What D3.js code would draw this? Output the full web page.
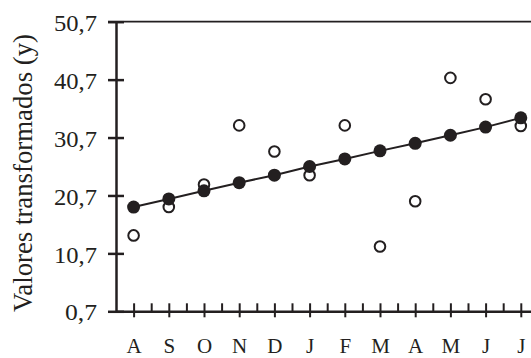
<!DOCTYPE html>
<html>
<head>
<meta charset="utf-8">
<script src="https://cdn.jsdelivr.net/npm/d3@7"></script>
<style>
  body { margin: 0; background: #fff; }
  svg text { font-family: "Liberation Serif", "Times New Roman", serif; fill: #231f20; }
</style>
</head>
<body>
<div id="chart"></div>
<script>
// month initials, Aug -> Jul
const months = ["A", "S", "O", "N", "D", "J", "F", "M", "A", "M", "J", "J"]
// observed transformed values (open circles)
const observed = [13.8, 18.7, 22.6, 32.8, 28.3, 24.2, 32.8, 11.9, 19.7, 41.0, 37.3, 32.7]
// fitted trend values (filled circles)
const fitted = [18.7, 20.1, 21.5, 22.9, 24.2, 25.7, 27.0, 28.4, 29.7, 31.1, 32.5, 34.1]
const yTicks = [0.7, 10.7, 20.7, 30.7, 40.7, 50.7]

const width = 531
const height = 358
const ink = "#231f20"

const svg = d3.select("#chart")
  .append("svg")
  .attr("width", width)
  .attr("height", height)

const x = d3.scaleLinear()
  .domain([-0.5, 11.29])
  .range([116, 531])

const y = d3.scaleLinear()
  .domain([0.7, 50.7])
  .range([311.3, 21.7])

const idx = months.map((d, i) => i)

// top frame line
svg.append("line")
  .attr("x1", 108)
  .attr("x2", width)
  .attr("y1", y(50.7))
  .attr("y2", y(50.7))
  .attr("stroke", ink)
  .attr("stroke-width", 1.8)

// Y axis, ticks crossing the line
const yAxis = svg.append("g")
  .attr("transform", `translate(${x(-0.5)},0)`)
  .call(d3.axisLeft(y).tickValues(yTicks).tickSize(8).tickSizeOuter(0)
    .tickPadding(11).tickFormat(d => d3.format(".1f")(d).replace(".", ",")))

yAxis.selectAll(".tick line").attr("x1", 8).attr("x2", -8)
yAxis.selectAll("line, path").attr("stroke", ink).attr("stroke-width", 2.5)
yAxis.selectAll("text")
  .attr("font-size", "24px")
  .attr("dy", "0.36em")
  .attr("textLength", d => d < 10 ? 32 : 43)
  .attr("lengthAdjust", "spacingAndGlyphs")
  .attr("fill", ink)

// X axis minor ticks (between months, pointing up)
const minor = svg.append("g")
  .attr("transform", `translate(0,${y(0.7)})`)
  .call(d3.axisBottom(x).tickValues(idx.slice(0, 11).map(i => i + 0.5)).tickSize(-8).tickSizeOuter(0).tickFormat(""))
minor.select(".domain").remove()
minor.selectAll("line").attr("stroke", ink).attr("stroke-width", 2)

// X axis major ticks with month labels
const xAxis = svg.append("g")
  .attr("transform", `translate(0,${y(0.7)})`)
  .call(d3.axisBottom(x).tickValues(idx).tickSize(6).tickSizeOuter(0)
    .tickPadding(21).tickFormat(i => months[i]))

xAxis.selectAll(".tick line").attr("y1", -8).attr("y2", 6).attr("stroke-width", 2)
xAxis.selectAll("line, path").attr("stroke", ink)
xAxis.select(".domain").attr("stroke-width", 2.5)
xAxis.selectAll("text")
  .attr("font-size", "21px")
  .attr("fill", ink)

// Y axis title
svg.append("text")
  .attr("transform", `translate(32,173) rotate(-90)`)
  .attr("text-anchor", "middle")
  .attr("font-size", "27px")
  .attr("textLength", 278)
  .attr("lengthAdjust", "spacingAndGlyphs")
  .text("Valores transformados (y)")

// observed values
svg.append("g")
  .selectAll("circle")
  .data(observed)
  .join("circle")
  .attr("cx", (d, i) => x(i))
  .attr("cy", d => y(d))
  .attr("r", 5.3)
  .attr("fill", "#fff")
  .attr("stroke", ink)
  .attr("stroke-width", 2)

// trend line
const line = d3.line()
  .x((d, i) => x(i))
  .y(d => y(d))

svg.append("path")
  .datum(fitted)
  .attr("d", line)
  .attr("fill", "none")
  .attr("stroke", ink)
  .attr("stroke-width", 2)

// fitted values
svg.append("g")
  .selectAll("circle")
  .data(fitted)
  .join("circle")
  .attr("cx", (d, i) => x(i))
  .attr("cy", d => y(d))
  .attr("r", 6.5)
  .attr("fill", ink)
</script>
</body>
</html>
